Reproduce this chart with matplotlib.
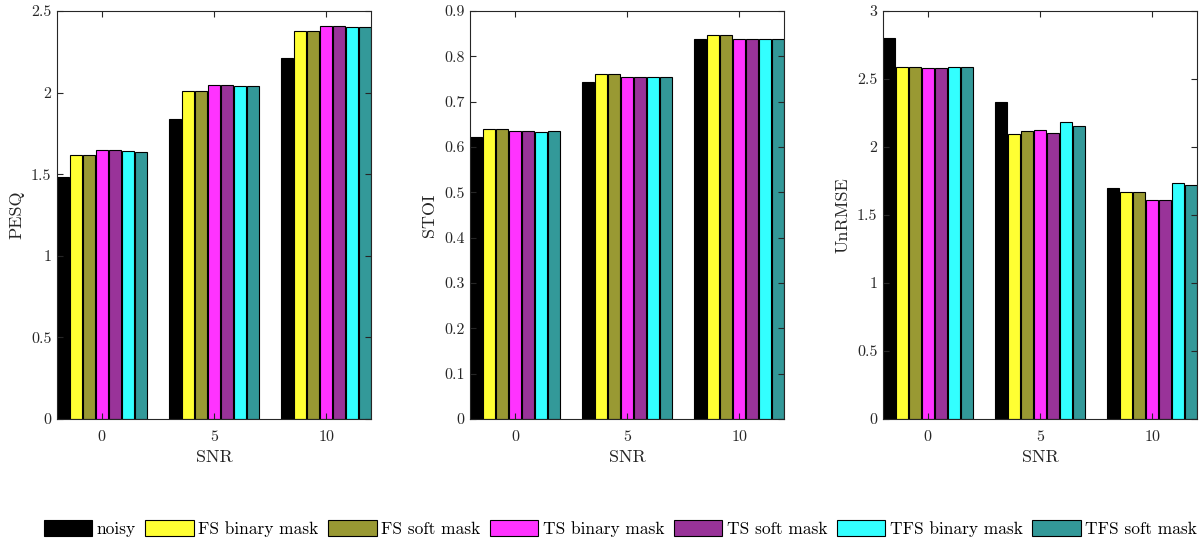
import numpy as np
import matplotlib
matplotlib.use("Agg")
import matplotlib.pyplot as plt
from matplotlib.ticker import FuncFormatter

plt.rcParams.update({'font.family': 'cmr10',
                     'mathtext.fontset': 'cm',
                     'axes.formatter.use_mathtext': True})

snr = ['0', '5', '10']
methods = ['noisy', 'FS binary mask', 'FS soft mask', 'TS binary mask',
           'TS soft mask', 'TFS binary mask', 'TFS soft mask']
colors = ['#000000', '#ffff33', '#999933', '#ff33ff', '#993399', '#33ffff', '#339999']

# rows: method, columns: SNR 0, 5, 10
pesq = [[1.48, 1.84, 2.21],
        [1.62, 2.01, 2.38],
        [1.62, 2.01, 2.38],
        [1.65, 2.045, 2.405],
        [1.65, 2.047, 2.406],
        [1.64, 2.04, 2.40],
        [1.637, 2.041, 2.402]]
stoi = [[0.622, 0.744, 0.838],
        [0.639, 0.761, 0.847],
        [0.640, 0.762, 0.848],
        [0.635, 0.754, 0.838],
        [0.635, 0.755, 0.839],
        [0.633, 0.754, 0.838],
        [0.635, 0.754, 0.838]]
unrmse = [[2.80, 2.33, 1.697],
          [2.586, 2.099, 1.668],
          [2.591, 2.114, 1.670],
          [2.579, 2.128, 1.609],
          [2.579, 2.101, 1.609],
          [2.586, 2.182, 1.734],
          [2.591, 2.158, 1.719]]

panels = [(pesq, 'PESQ', 2.5, np.arange(0, 2.51, 0.5)),
          (stoi, 'STOI', 0.9, np.arange(0, 0.91, 0.1)),
          (unrmse, 'UnRMSE', 3.0, np.arange(0, 3.01, 0.5))]
lefts = [0.0475, 0.3917, 0.7358]

fig = plt.figure(figsize=(12, 5.44), dpi=100)
axcol = '#262626'
slot = 0.116
bw = 0.104
x = np.arange(1, len(snr) + 1)

handles = []
for (data, lab, top, ticks), l in zip(panels, lefts):
    ax = fig.add_axes([l, 0.2298, 0.2617, 0.75])
    for i in range(len(methods)):
        off = (i - (len(methods) - 1) / 2) * slot
        h = ax.bar(x + off, data[i], bw, color=colors[i], edgecolor='black',
                   linewidth=0.8, label=methods[i])
        if l == lefts[0]:
            handles.append(h)
    ax.set_xlim(0.6, 3.4)
    ax.set_ylim(0, top)
    ax.set_xticks(x)
    ax.set_xticklabels(snr)
    ax.set_yticks(ticks)
    ax.yaxis.set_major_formatter(FuncFormatter(lambda v, p: '%g' % round(v, 2)))
    ax.tick_params(direction='in', top=True, right=True, length=4,
                   width=0.8, colors=axcol, labelsize=11.5)
    ax.tick_params(axis='x', pad=8)
    ax.tick_params(axis='y', pad=4)
    for sp in ax.spines.values():
        sp.set_color(axcol)
        sp.set_linewidth(0.8)
    ax.set_xlabel('SNR', fontsize=13, color=axcol, labelpad=4)
    ax.set_ylabel(lab, fontsize=13, color=axcol, labelpad=5)

fig.legend(handles, methods, loc='center', bbox_to_anchor=(0.517, 0.028),
           ncol=7, frameon=False, fontsize=12.5, handlelength=2.8,
           handleheight=1.0, handletextpad=0.25, columnspacing=0.55,
           borderaxespad=0)

fig.savefig('out.png', dpi=100)
